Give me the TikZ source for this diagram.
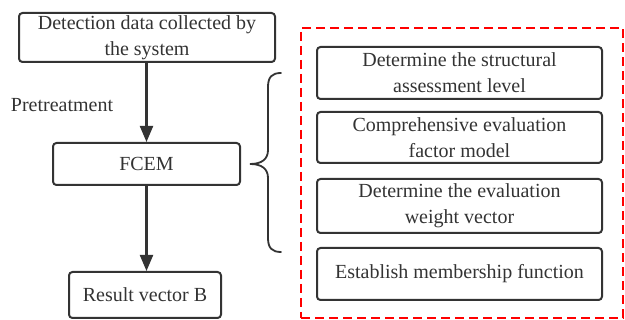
\documentclass[tikz,border=0pt]{standalone}
\usepackage{fontspec}
\setmainfont{Liberation Serif}
\usetikzlibrary{arrows.meta}
\definecolor{ink}{HTML}{333333}
\begin{document}
\begin{tikzpicture}[x=1pt,y=-1pt,
  txt/.style={text=ink,font=\fontspec{Liberation Serif}\fontsize{20}{26}\selectfont},
  box/.style={txt,draw=ink,line width=2pt,rounded corners=3.5pt,inner sep=0pt,align=center},
  flow/.style={draw=ink,line width=2.2pt,-{Triangle[width=13pt,length=16pt]}}]
\useasboundingbox (0,0) rectangle (625,320);
\node[box,minimum width=256pt,minimum height=49pt] (det) at (147,37.5) {Detection data collected by\\the system};
\node[box,minimum width=187pt,minimum height=42pt] (fcem) at (146.5,164) {FCEM};
\node[box,minimum width=152pt,minimum height=46pt] (res) at (145,295) {Result vector B};
\node[txt] (pre) at (62,105) {Pretreatment};
\draw[flow] (det.south -| fcem.north) -- (fcem.north);
\draw[flow] (fcem.south) -- (fcem.south |- res.north);
\coordinate (bt) at (281,73);
\coordinate (tip) at (250,164);
\coordinate (bb) at (281,252);
\draw[ink,line width=1.8pt,line cap=round]
  (bt) .. controls (272,73) and (268,77) .. (268,87) -- (268,150)
  .. controls (268,159) and (262,164) .. (tip)
  .. controls (262,164) and (268,169) .. (268,178) -- (268,238)
  .. controls (268,248) and (272,252) .. (bb);
\node[draw=red,line width=1.8pt,dash pattern=on 9pt off 5pt,minimum width=322pt,minimum height=290pt,inner sep=0pt] (grp) at (462,173) {};
\node[box,minimum width=285pt,minimum height=52pt] (a) at (459.5,73) {Determine the structural\\assessment level};
\node[box,minimum width=285pt,minimum height=51pt] (b) at (459.5,137.5) {Comprehensive evaluation\\factor model};
\node[box,minimum width=285pt,minimum height=54pt] (c) at (459.5,206) {Determine the evaluation\\weight vector};
\node[box,minimum width=285pt,minimum height=52pt] (d) at (459.5,274) {Establish membership function};
\end{tikzpicture}
\end{document}
